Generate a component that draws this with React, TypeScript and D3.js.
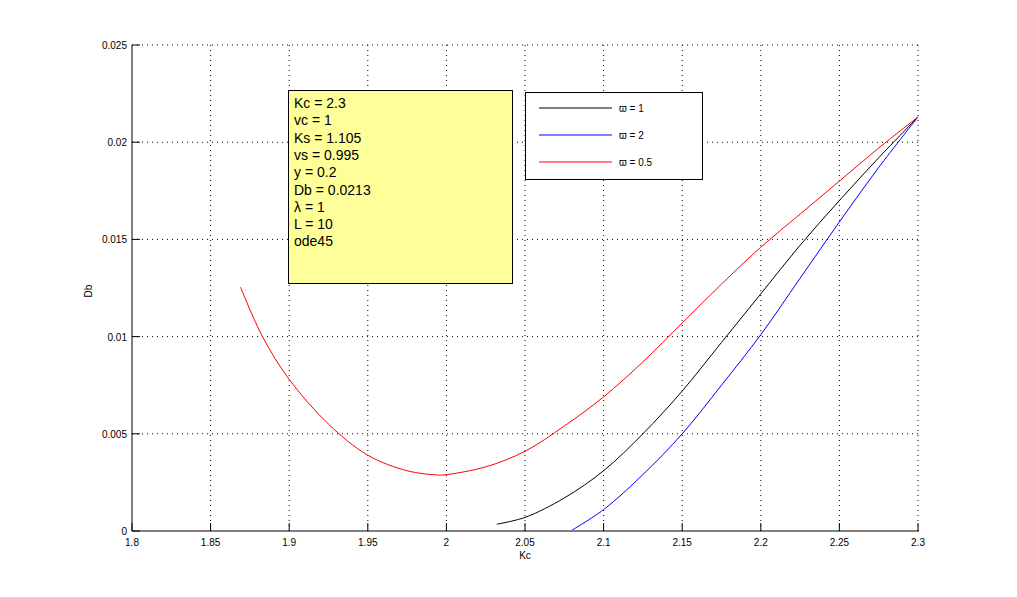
import React from "react";
import * as d3 from "d3";

const xTicks = [1.8, 1.85, 1.9, 1.95, 2, 2.05, 2.1, 2.15, 2.2, 2.25, 2.3];
const yTicks = [0, 0.005, 0.01, 0.015, 0.02, 0.025];

const redX = [1.869, 1.883, 1.9, 1.925, 1.95, 1.975, 1.995, 2.0, 2.025, 2.05, 2.075, 2.1, 2.125, 2.15, 2.175, 2.2, 2.225, 2.25, 2.275, 2.3];
const redY = [0.01255, 0.0100, 0.0078, 0.0055, 0.0039, 0.0031, 0.00288, 0.0029, 0.0033, 0.0041, 0.0054, 0.0069, 0.0087, 0.0107, 0.0127, 0.0146, 0.0163, 0.018, 0.0197, 0.0213];

const blackX = [2.032, 2.05, 2.075, 2.1, 2.125, 2.15, 2.175, 2.2, 2.225, 2.25, 2.275, 2.3];
const blackY = [0.00035, 0.0007, 0.0017, 0.0031, 0.005, 0.0072, 0.0097, 0.0122, 0.0147, 0.017, 0.0192, 0.0213];

const blueX = [2.08, 2.1, 2.125, 2.15, 2.175, 2.2, 2.225, 2.25, 2.275, 2.3];
const blueY = [0.00005, 0.0011, 0.0029, 0.005, 0.0075, 0.0101, 0.013, 0.0159, 0.0187, 0.0213];

const infoLines = ["Kc = 2.3", "vc = 1", "Ks = 1.105", "vs = 0.995", "y = 0.2", "Db = 0.0213", "λ = 1", "L = 10", "ode45"];
const legendLabels = ["ϖ = 1", "ϖ = 2", "ϖ = 0.5"];
const legendColors = ["#000000", "#0000ff", "#ff0000"];

const W = 1017, H = 597;
const L = 132, R = 918, T = 45, B = 531;
const font = "'Liberation Sans', Arial, Helvetica, sans-serif";

export default function App() {
  const x = d3.scaleLinear().domain([1.8, 2.3]).range([L, R]);
  const y = d3.scaleLinear().domain([0, 0.025]).range([B, T]);
  const line = d3.line<[number, number]>().x(d => x(d[0])).y(d => y(d[1])).curve(d3.curveCatmullRom);
  const series = [
    { xs: blackX, ys: blackY, color: "#000000" },
    { xs: blueX, ys: blueY, color: "#0000ff" },
    { xs: redX, ys: redY, color: "#ff0000" },
  ];
  const fmtY = (v: number) => (v === 0 ? "0" : String(+v.toFixed(3)));
  return (
    <svg width={W} height={H} style={{ position: "absolute", left: 0, top: 0, background: "#fff" }}>
      <rect x={0} y={0} width={W} height={H} fill="#fff" />
      {xTicks.slice(1).map((t, i) => (
        <line key={"gx" + i} x1={x(t)} x2={x(t)} y1={B} y2={T} stroke="#000" strokeWidth={1} strokeDasharray="1,4" />
      ))}
      {yTicks.slice(1).map((t, i) => (
        <line key={"gy" + i} x1={L} x2={R} y1={y(t)} y2={y(t)} stroke="#000" strokeWidth={1} strokeDasharray="1,4" />
      ))}
      <line x1={L} x2={R + 1} y1={B} y2={B} stroke="#000" />
      <line x1={L} x2={L} y1={T} y2={B} stroke="#000" />
      {xTicks.map((t, i) => (
        <g key={"xt" + i}>
          <line x1={x(t)} x2={x(t)} y1={B} y2={B - 8} stroke="#000" />
          <text x={x(t)} y={B + 15} fontSize={10} fontFamily={font} textAnchor="middle">{String(t)}</text>
        </g>
      ))}
      {yTicks.map((t, i) => (
        <g key={"yt" + i}>
          <line x1={L} x2={L + 8} y1={y(t)} y2={y(t)} stroke="#000" />
          <text x={L - 5} y={y(t) + 4} fontSize={10} fontFamily={font} textAnchor="end">{fmtY(t)}</text>
        </g>
      ))}
      <text x={525} y={559} fontSize={10} fontFamily={font} textAnchor="middle">Kc</text>
      <text transform="translate(92,291) rotate(-90)" fontSize={10} fontFamily={font} textAnchor="middle">Db</text>
      {series.map((s, i) => (
        <path key={"s" + i} d={line(s.xs.map((v, j) => [v, s.ys[j]] as [number, number])) || ""} fill="none" stroke={s.color} strokeWidth={1} />
      ))}
      <rect x={288.5} y={90.5} width={224} height={193} fill="#ffff99" stroke="#000" />
      {infoLines.map((s, i) => (
        <text key={"il" + i} x={294} y={108 + i * 17.3} fontSize={14} fontFamily={font}>{s}</text>
      ))}
      <rect x={525.5} y={92.5} width={177} height={87} fill="#fff" stroke="#000" />
      {legendLabels.map((s, i) => (
        <g key={"lg" + i}>
          <line x1={539} x2={612} y1={108 + i * 27} y2={108 + i * 27} stroke={legendColors[i]} />
          <text x={619} y={112 + i * 27} fontSize={10} fontFamily={font}>{s}</text>
        </g>
      ))}
    </svg>
  );
}
